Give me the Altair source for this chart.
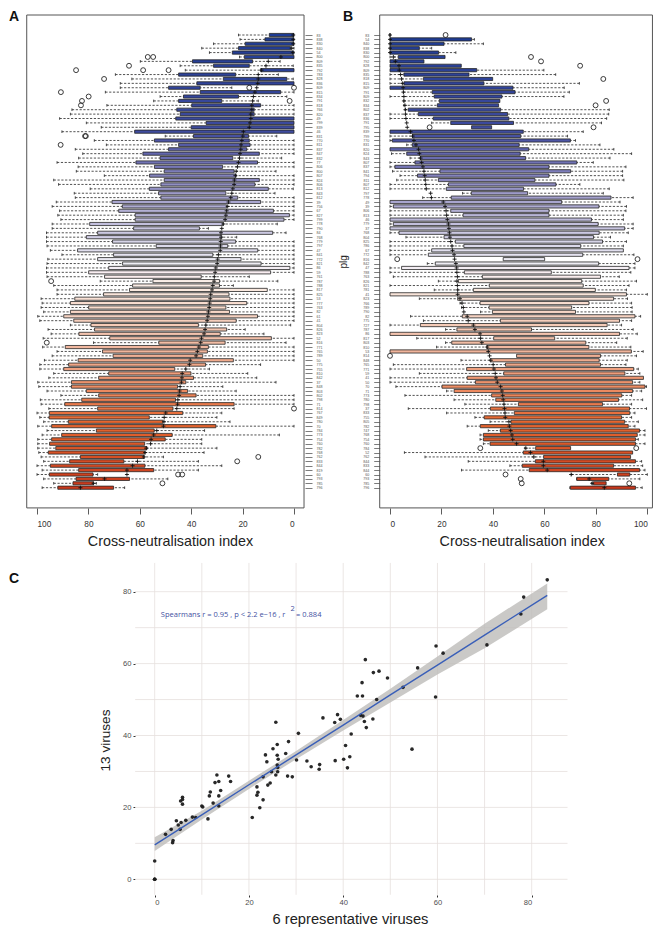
import altair as alt
import pandas as pd

labels_a = [83,838,830,840,54,800,809,835,792,783,
828,836,809,815,834,791,818,766,820,49,
799,839,46,831,770,811,837,847,832,77,
806,800,807,824,806,813,843,812,39,756,
67,827,799,778,790,84,768,779,797,47,
841,772,821,86,59,761,787,788,817,825,
53,777,763,82,61,41,804,826,823,52,
816,771,765,789,50,775,755,810,842,37,
848,803,802,798,71,814,767,849,780,70,
784,773,754,760,782,768,762,833,844,819,
60,793,785,796]
a_wl = [21.6,21.0,31.3,35.9,32.9,21.2,59.8,44.3,42.3,69.5,
63.1,67.6,67.6,73.4,52.1,54.6,72.8,86.4,87.0,91.2,
80.8,75.0,90.3,50.1,77.7,73.0,85.1,82.2,83.8,92.2,
84.0,84.7,73.8,93.5,91.6,79.3,85.5,85.1,92.5,94.1,
91.2,91.9,90.7,94.1,94.1,96.3,96.3,96.3,96.1,94.8,
90.3,95.8,96.1,96.3,96.3,96.1,75.4,93.5,92.2,92.2,
98.4,98.0,98.4,97.4,99.7,98.9,87.0,95.7,94.5,97.6,
78.0,97.8,92.2,94.1,97.1,98.9,98.9,93.5,95.4,99.7,
99.3,96.1,90.7,98.7,98.4,95.4,100,98.9,97.4,99.7,
96.1,98.0,99.7,99.7,99.7,99.3,98.4,97.4,100,98.0,
100,97.4,93.5,98.0]
a_bl = [9.6,11.3,19.0,21.6,24.0,19.3,39.5,31.3,13.0,44.9,
27.5,37.8,48.8,36.5,43.0,44.9,39.8,45.6,44.3,46.0,
34.2,40.0,62.0,39.1,54.3,44.9,48.8,58.8,52.1,61.5,
54.3,50.5,56.2,50.5,51.8,56.3,52.7,51.8,70.8,66.8,
68.2,61.8,61.8,79.5,62.4,76.4,80.8,70.6,53.6,84.2,
70.2,76.4,66.7,72.1,79.9,73.7,54.9,62.8,64.0,74.1,
85.3,87.0,79.9,87.0,89.6,85.7,79.0,77.6,83.7,71.7,
52.6,89.0,74.5,70.4,84.0,87.7,89.6,72.1,76.0,86.6,
86.6,80.8,76.0,82.6,89.2,76.4,95.2,95.3,87.8,94.3,
76.9,90.4,94.3,95.1,92.7,95.6,83.1,87.3,94.8,83.8,
95.2,84.8,86.0,91.9]
a_br = [0,0,0,1.3,0,0,16.1,17.4,0,22.7,
2.8,0,36.5,5.2,21.6,28.1,13.0,15.5,15.5,0,
0,0,0,17.7,17.4,17.1,18.4,13.5,23.8,14.2,
27.8,23.3,22.5,13.5,15.2,10.0,26.5,21.9,13.0,26.2,
8.0,1.8,3.9,27.7,36.8,8.3,28.1,22.7,25.8,14.1,
31.6,20.6,12.8,1.6,9.1,36.1,29.0,29.0,10.4,25.3,
24.9,18.4,26.5,25.1,14.2,22.5,37.2,26.2,28.7,8.8,
26.8,33.3,33.7,35.5,23.6,34.4,46.4,40.1,39.1,42.1,
45.3,41.4,38.1,46.1,23.3,47.1,43.3,56.3,51.0,30.4,
54.4,47.4,50.1,58.1,57.2,58.1,58.3,66.2,58.0,54.6,
78.2,64.0,78.2,70.2]
a_wr = [0,0,0,0,0,0,5.4,0.3,0,6.1,
0.3,0,24.2,0,2.8,13.9,0,0,0,0,
0,0,0,6.7,0,0,0,0,4.8,0,
0,7.0,0,0,0,0.3,7.4,0,0,0,
0,0,0,6.5,33.3,3.1,22.3,0,0,0,
0,0,0,0,0,17.4,6.3,23.6,0,0,
0,0,0,0,0,0,1.3,19.0,11.7,0,
3.1,0,0,0,0,13.0,32.9,18.0,14.5,7.0,
27.7,22.5,0,0,0,23.3,28.1,30.0,24.9,0,
34.8,5.7,35.9,35.9,30.0,35.0,50.8,37.2,28.1,37.2,
76.4,49.1,76.9,65.9]
a_mean = [0.3,0.3,0.3,0.9,0.5,5.1,10.0,10.9,12.6,13.9,
13.9,14.1,14.5,15.2,15.8,16.1,16.4,16.4,16.8,16.8,
17.1,17.4,19.7,19.9,20.3,20.6,20.7,21.0,21.2,21.6,
22.0,22.5,22.8,23.2,23.3,23.8,24.2,24.6,25.5,25.8,
26.2,26.5,26.8,27.5,28.1,28.4,28.4,28.5,28.6,28.7,
29.4,29.7,29.9,30.4,30.7,31.0,31.1,31.6,31.9,32.4,
32.6,32.8,33.0,33.3,33.5,33.8,34.3,34.6,35.0,36.0,
36.3,37.0,37.6,38.1,40.4,40.7,42.1,43.5,43.6,43.8,
44.3,44.5,44.7,45.2,45.3,45.6,49.9,50.5,50.6,50.8,
53.4,54.6,55.6,55.8,57.5,57.9,58.4,60.9,62.8,65.0,
65.0,73.7,78.0,83.1]
a_out_row = [5,5,7,8,8,8,10,12,12,13,14,15,15,16,23,23,25,56,70,85,96,97,100,100,102]
a_out_val = [56.9,54.8,64.2,58.7,48.8,84.8,73.9,17.4,0,90.7,79.9,82.5,1.7,82.9,81.3,81.0,90.8,94.5,96.2,0,13.9,22.1,45.1,43.5,51.2]

labels_b = [83,54,840,838,830,800,792,828,809,835,
818,815,809,791,809,832,834,802,837,836,
791,795,839,799,770,831,820,824,843,807,
837,841,794,811,807,812,797,778,49,39,
806,813,46,779,37,768,804,825,786,67,
772,816,842,47,788,763,826,821,781,41,
823,766,789,790,82,775,727,787,86,817,
803,810,53,814,848,765,771,59,41,50,
70,71,773,780,798,37,833,755,805,782,
747,768,754,760,784,52,762,844,833,844,
60,793,785,796]
b_wl = [0,0,0,0,0,0,0,0,0,0,
0,0,0,5.2,0,5.4,5.4,5.8,0,0,
16.2,31.7,0,0,0,6.5,0,0.6,7.8,0,
0,1.0,3.9,2.6,0,0,28.2,12.7,0,0,
0,0,0,0,0,0,6.2,0,0,0,
0,44.0,14.5,0,0,1.3,18.8,0,17.2,0,
11.4,27.2,27.8,35.2,8.0,13.0,0,21.6,0,10.4,
21.6,18.1,0,49.2,27.6,1.3,0,11.4,0,0,
2.3,22.0,5.8,24.9,29.1,7.1,22.0,33.0,38.9,30.0,
38.2,35.0,35.0,36.3,52.4,5.6,13.6,30.4,46.6,27.8,
70.6,72.5,78.3,69.9]
b_bl = [0,0,0,0,0,3.2,0,0,0,5.4,
13.0,5.4,0,16.4,17.2,19.2,18.4,7.1,11.0,16.8,
23.6,31.7,0,8.7,0.9,8.7,0,6.5,11.7,9.7,
1.9,19.4,10.7,18.8,22.7,21.9,31.6,23.8,0,1.3,
23.6,28.4,0,1.3,0,3.5,21.0,25.4,28.7,16.2,
14.9,44.0,17.6,4.5,28.9,35.9,26.5,38.6,32.4,0,
26.3,35.0,38.5,39.8,28.1,42.9,11.8,26.0,0,40.3,
24.0,37.6,0,49.2,38.9,44.9,29.8,44.2,30.0,33.2,
20.2,24.9,39.5,41.1,49.9,39.0,48.3,36.6,47.0,35.1,
42.9,36.3,36.3,38.9,56.6,51.8,59.7,56.5,51.4,54.1,
88.4,72.6,79.0,70.1]
b_br = [0,31.7,21.0,11.4,18.9,21.4,13.2,27.7,33.7,30.7,
39.9,36.5,47.8,48.6,43.5,42.7,42.2,43.0,45.7,46.2,
48.0,39.5,51.8,50.8,70.1,50.2,53.9,50.6,52.7,72.6,
61.8,70.2,61.8,56.3,64.5,51.9,53.5,85.9,66.7,81.2,
61.8,61.8,78.3,80.9,91.2,81.3,79.1,82.6,74.1,90.7,
74.9,60.1,81.1,92.9,62.7,81.8,74.5,75.1,79.8,91.9,
86.9,77.3,70.6,72.1,95.2,89.2,84.4,55.0,89.2,64.0,
76.1,77.3,93.8,81.8,81.3,81.8,94.7,91.3,98.5,94.3,
99.1,94.3,90.1,88.8,82.6,93.1,93.2,90.0,91.2,92.6,
97.0,96.1,95.4,95.4,70.2,94.3,93.5,95.4,86.9,97.0,
93.2,85.0,84.0,95.4]
b_wr = [0,32.8,36.3,16.2,25.6,21.4,13.2,27.7,59.8,64.4,
39.9,73.6,67.7,69.7,67.6,42.7,42.2,85.2,85.0,84.2,
82.2,39.5,75.1,69.0,72.1,81.6,87.0,93.9,85.5,79.0,
91.7,90.4,90.4,90.9,73.8,85.2,82.9,94.5,89.4,91.9,
91.7,90.7,90.7,94.5,94.5,92.6,85.7,91.9,90.7,90.7,
94.8,60.1,95.2,95.2,93.6,89.1,95.8,92.9,91.9,100,
92.3,93.9,94.1,94.1,97.4,93.9,90.0,94.5,96.1,92.2,
88.1,93.6,98.4,95.8,92.2,91.7,96.5,97.1,98.5,97.1,
99.7,97.8,93.9,98.2,93.9,99.7,95.2,93.9,96.5,95.2,
99.1,99.1,96.5,99.1,70.2,94.3,93.5,97.8,98.2,99.1,
100,97.1,84.0,98.0]
b_mean = [0,0,0,0,0,1.3,2.1,3.5,3.6,4.1,
4.5,4.8,5.1,5.2,5.4,5.4,5.8,6.0,6.0,6.2,
6.5,6.7,8.0,8.8,9.3,10.1,11.1,11.4,11.9,12.3,
12.8,13.2,13.5,13.7,13.9,14.1,15.8,16.1,20.7,21.4,
21.8,22.0,22.3,22.7,22.9,23.1,23.3,23.6,24.1,24.3,
24.9,25.1,25.6,25.9,26.0,26.2,26.0,26.2,26.3,26.3,
27.2,28.0,28.5,28.7,30.0,30.4,32.4,33.0,35.0,35.2,
35.7,37.8,38.2,38.7,39.2,40.1,40.4,40.9,41.2,41.7,
43.0,43.5,43.8,44.0,44.3,44.5,44.7,44.8,46.2,46.4,
46.9,47.4,47.7,49.2,52.8,54.6,55.9,59.6,59.6,61.1,
70.4,77.4,78.6,83.3]
b_out_row = [0,5,6,7,10,15,16,21,21,51,51,73,94,94,100,101,102,102]
b_out_val = [21.6,54.8,58.7,73.9,82.9,84.0,79.9,15.4,79.1,2.8,96.2,0,35.1,95.7,44.9,50.8,51.2,93.0]

c_x = [0,0,0,0,2.3,3.5,3.9,3.8,4.6,5.0,5.4,5.6,5.5,5.9,5.9,5.9,6.6,8.0,8.7,10,10.2,11.3,11.6,11.8,12.4,12.8,13.2,13.6,13.6,13.6,14,15.7,16.1,
20.7,21.7,21.7,21.9,22.3,23,23,23.5,23.8,24,24.5,24.8,25.1,25.7,25.7,26,26,26,26.1,26.2,26.1,27.8,28.2,28.4,29.2,30.1,30.5,32.3,33.2,35,34.9,35.7,38.3,38.2,38.8,39.4,
40.1,40.5,41.4,40.9,41.7,43,44.1,44,43.7,44.2,44.5,44.9,44.7,46.3,46.4,47.1,47.6,49.4,52.7,54.6,55.8,59.7,59.6,61.2,70.5,77.7,78.3,83.3]
c_y = [0,0,0,5.1,12.5,13.9,10.8,10.2,16.3,15.1,13.9,15.8,21.8,22.8,22.2,20.9,16.4,17.3,17.2,20.4,20.1,16.8,23.2,24.3,21.2,26.9,29.0,27.2,23.2,20.4,24.7,28.7,27.2,
17.2,25.7,23.4,24.2,19.9,22.1,28.5,34.6,32.7,26.2,26.8,29.9,36.3,43.7,29,37.5,34.5,31.8,29.9,33.4,31.1,35,28.7,38.3,28.5,33.2,40.6,32.9,31.3,31.9,30.6,44.9,33,43.6,45.8,44.5,
33.4,37.2,34.1,31,40.4,51,51,54.7,45.6,45.4,43.9,42.2,61.1,44.6,57.5,50,57.9,56,53.4,36.2,58.8,64.9,50.7,62.9,65.2,73.8,78.5,83.3]
fit_x = [0,10,20,30,40,50,60,70,83.3]
fit_y = [9.6,17.9,26.3,34.6,42.9,51.3,59.6,67.9,79.0]
fit_lo = [7.9,16.6,25.1,33.4,41.4,49.2,57.0,64.3,75.1]
fit_hi = [11.7,19.1,27.4,35.7,44.3,53.0,62.0,71.1,82.3]
grid_vals = [0,10,20,30,40,50,60,70,80]

stop_rows = [0,22,38,52,56,72,88,103]
stop_cols = ['#1d3b93','#3f4c9f','#a9a6cf','#efeef5','#fbf0ea','#f0b49b','#e5662f','#c8381c']
INK = '#262626'
FONT = 'Liberation Sans'
PLUS = 'M-1,0L1,0M0,-1L0,1'


def sc(dom, rng):
    return alt.Scale(domain=dom, range=rng, nice=False, zero=False)


def panel(labels, wl, bl, br, wr, mean, orow, oval, xs, ys, frame, x_axis, y_axis, y_title):
    n = len(labels)
    rows = list(range(n))
    df = pd.DataFrame(dict(row=rows, wl=wl, bl=bl, br=br, wr=wr, mean=mean))
    df['y0'] = df.row - 0.36
    df['y1'] = df.row + 0.36
    w1 = df[df.wl != df.bl].assign(a=lambda d: d.wl, b=lambda d: d.bl)
    w2 = df[df.wr != df.br].assign(a=lambda d: d.wr, b=lambda d: d.br)
    w = pd.concat([w1, w2])[['row', 'a', 'b']].copy()
    w['t0'] = w.row - 0.3
    w['t1'] = w.row + 0.3
    out = pd.DataFrame(dict(row=orow, v=oval))
    fr = pd.DataFrame([frame])
    X = lambda f: alt.X(f, scale=xs, axis=None, title=None)
    Y = lambda f: alt.Y(f, scale=ys, axis=None, title=None)
    return [
        alt.Chart(fr).mark_rect(fill='transparent', stroke='#555555', strokeWidth=1).encode(
            x=alt.X('x0:Q', scale=xs, axis=x_axis, title='Cross-neutralisation index'),
            x2='x1:Q',
            y=alt.Y('y0:Q', scale=ys, axis=y_axis, title=y_title),
            y2='y1:Q'),
        alt.Chart(w).mark_rule(color=INK, strokeWidth=0.8, strokeDash=[2.2, 1.6]).encode(
            x=X('a:Q'), x2='b:Q', y=Y('row:Q')),
        alt.Chart(w).mark_rule(color=INK, strokeWidth=0.8).encode(
            x=X('a:Q'), y=Y('t0:Q'), y2='t1:Q'),
        alt.Chart(df).mark_rect(stroke=INK, strokeWidth=0.8).encode(
            x=X('bl:Q'), x2='br:Q', y=Y('y0:Q'), y2='y1:Q',
            fill=alt.Fill('row:Q', scale=alt.Scale(domain=stop_rows, range=stop_cols), legend=None)),
        alt.Chart(df).mark_point(shape=PLUS, filled=False, color='#111111', size=16, strokeWidth=0.9, opacity=1).encode(
            x=X('mean:Q'), y=Y('row:Q')),
        alt.Chart(out).mark_point(shape='circle', filled=False, color=INK, size=24, strokeWidth=0.9, opacity=1).encode(
            x=X('v:Q'), y=Y('row:Q')),
    ]


def row_axis(labels, **k):
    expr = '[' + ','.join("'%d'" % v for v in labels) + '][datum.value]'
    return alt.Axis(values=list(range(len(labels))), labelExpr=expr, labelFontSize=3.6, labelColor='#555555',
                    labelOverlap=False, labelFont=FONT, grid=False, domain=False, tickColor='#444444',
                    tickWidth=0.7, **k)


def bottom_axis(title_x, offset):
    return alt.Axis(values=[0, 20, 40, 60, 80, 100], labelFontSize=8.3, labelFont=FONT, labelColor='#333333',
                    labelPadding=5, grid=False, domain=False, tickSize=6, tickColor='#333333', tickWidth=0.8,
                    orient='bottom', offset=offset, titleFont=FONT, titleFontSize=14.3, titleFontWeight='normal',
                    titleColor='#222222', titlePadding=7, titleX=title_x)


H = 921
W = 645
ys_ab = sc([0, 103], [27, 479.7])
xs_a = sc([0, 100], [286, 29])
xs_b = sc([0, 100], [382, 639.3])

layers = []
layers += panel(labels_a, a_wl, a_bl, a_br, a_wr, a_mean, a_out_row, a_out_val, xs_a, ys_ab,
                dict(x0=104, x1=-3.9, y0=-4.55, y1=107.6),
                bottom_axis(162, 500 - H),
                row_axis(labels_a, orient='right', offset=297 - W, tickSize=7, labelPadding=4), None)
layers += panel(labels_b, b_wl, b_bl, b_br, b_wr, b_mean, b_out_row, b_out_val, xs_b, ys_ab,
                dict(x0=-4, x1=102, y0=-4.55, y1=107.6),
                bottom_axis(513.7, 500 - H),
                row_axis(labels_b, orient='left', offset=-371.7, tickSize=6, labelPadding=5,
                         titleFont=FONT, titleFontSize=10, titleFontWeight='normal', titleColor='#222222',
                         titlePadding=14), 'plg')

xs_c = sc([0, 80], [146.7, 523.7])
ys_c = sc([0, 80], [871.3, 583.7])
gv = pd.DataFrame(dict(g=grid_vals, a=-4.3, b=88.0))
gh = pd.DataFrame(dict(g=grid_vals, a=-4.15, b=87.6))
fit = pd.DataFrame(dict(x=fit_x, y=fit_y, lo=fit_lo, hi=fit_hi))
pts = pd.DataFrame(dict(x=c_x, y=c_y))
GRID = '#e6e0dd'
CX = lambda f: alt.X(f, scale=xs_c, axis=None, title=None)
CY = lambda f: alt.Y(f, scale=ys_c, axis=None, title=None)
c_axis_x = alt.Axis(values=[0, 20, 40, 60, 80], orient='bottom', offset=887 - H, labelFontSize=7.6, labelFont=FONT,
                    labelColor='#4d4d4d', labelPadding=1, tickSize=2, tickColor='#333333', domain=False, grid=False,
                    titleFont=FONT, titleFontSize=14.7, titleFontWeight='normal', titleColor='#222222',
                    titlePadding=6, titleX=342)
c_axis_y = alt.Axis(values=[0, 20, 40, 60, 80], orient='left', offset=-127, labelFontSize=7.6, labelFont=FONT,
                    labelColor='#4d4d4d', labelPadding=2, tickSize=2, tickColor='#333333', domain=False, grid=False,
                    titleFont=FONT, titleFontSize=13.6, titleFontWeight='normal', titleColor='#222222',
                    titlePadding=10, titleY=732)
layers += [
    alt.Chart(gv).mark_rule(color=GRID, strokeWidth=0.8).encode(
        x=alt.X('g:Q', scale=xs_c, axis=c_axis_x, title='6 representative viruses'),
        y=alt.Y('a:Q', scale=ys_c, axis=c_axis_y, title='13 viruses'), y2='b:Q'),
    alt.Chart(gh).mark_rule(color=GRID, strokeWidth=0.8).encode(
        y=CY('g:Q'), x=CX('a:Q'), x2='b:Q'),
    alt.Chart(fit).mark_area(color='#bdbbb9', opacity=0.8).encode(x=CX('x:Q'), y=CY('lo:Q'), y2='hi:Q'),
    alt.Chart(pts).mark_circle(color='#1c1c1c', size=13, opacity=0.95).encode(x=CX('x:Q'), y=CY('y:Q')),
    alt.Chart(fit).mark_line(color='#3a5fb8', strokeWidth=1.4).encode(x=CX('x:Q'), y=CY('y:Q')),
]
note = pd.DataFrame(dict(x=[1.3, 28.8, 30.0], y=[73.4, 75.2, 73.4],
                         t=['Spearmans r = 0.95 , p < 2.2 e\u221216  ,  r', '2', '=  0.884']))
layers.append(alt.Chart(note).mark_text(align='left', baseline='middle', font='Open Sans', fontSize=7.5,
                                        color='#44519f').encode(x=CX('x:Q'), y=CY('y:Q'), text='t:N'))

tag_x = [1, 335, 1]
tag_y = [13, 13, 575]
tag_t = ['A', 'B', 'C']
for tx, ty, tt in zip(tag_x, tag_y, tag_t):
    layers.append(alt.Chart(pd.DataFrame(dict(t=[tt]))).mark_text(
        align='left', baseline='alphabetic', font=FONT, fontSize=14, fontWeight='bold', color='#111111').encode(
        x=alt.value(tx), y=alt.value(ty), text='t:N'))

chart = alt.layer(*layers).resolve_scale(x='independent', y='independent', fill='independent').properties(
    width=W, height=H, padding=0, autosize=alt.AutoSizeParams(type='none')
).configure_view(stroke='transparent')

chart.save("out.html", embed_options={"renderer": "svg", "actions": False})
